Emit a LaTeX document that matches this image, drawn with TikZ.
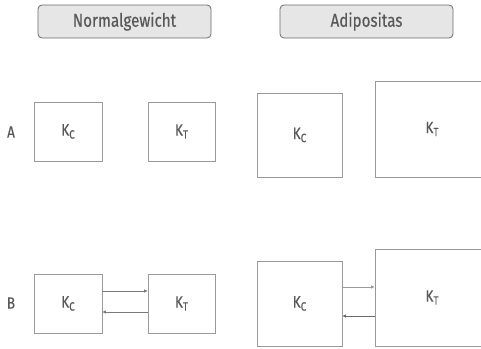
\documentclass[tikz,border=0pt]{standalone}
\usepackage{fontspec}
\setmainfont{Fira Sans}[FakeStretch=0.82,FakeBold=0.3]
\usetikzlibrary{arrows.meta}
\definecolor{txt}{HTML}{585858}
\definecolor{boxline}{HTML}{9A9A9A}
\definecolor{hdrline}{HTML}{6A6A6A}
\definecolor{hdrfill}{HTML}{E6E6E6}
\definecolor{arrline}{HTML}{7A7A7A}
\newcommand{\Ksub}[1]{K\raisebox{-3pt}{\fontsize{12}{13}\selectfont #1}}
\tikzset{
  hdr/.style={draw=hdrline, fill=hdrfill, rounded corners=4pt, line width=0.8pt,
    minimum width=173pt, minimum height=33pt, inner sep=0pt, text=txt, font=\fontsize{18.5}{21}\selectfont},
  kbox/.style={draw=boxline, line width=0.8pt, inner sep=0pt, text=txt, font=\fontsize{16.5}{19}\selectfont},
  rowlabel/.style={text=txt, inner sep=0pt, font=\fontsize{16.5}{19}\selectfont},
  arr/.style={draw=arrline, line width=0.8pt, -{Triangle[length=3.5pt,width=3pt]}}
}
\begin{document}
\begin{tikzpicture}[x=1pt,y=-1pt]
\useasboundingbox (0,0) rectangle (481,348);
\clip (0,0) rectangle (481,348);
% headers
\node[hdr] (hn) at (124.5,21.5) {Normalgewicht};
\node[hdr] (ha) at (366.5,21.5) {Adipositas};
% row labels
\node[rowlabel] (la) at (11,132) {A};
\node[rowlabel] (lb) at (11,303) {B};
% row A
\node[kbox, minimum width=68pt, minimum height=59pt] (kcA) at (68,131.5) {\Ksub{C}};
\node[kbox, minimum width=67pt, minimum height=59pt] (ktA) at (181.5,131.5) {\Ksub{T}};
\node[kbox, minimum width=85pt, minimum height=84pt] (kcAa) at (299.5,135) {\Ksub{C}};
\node[kbox, minimum width=114pt, minimum height=96pt] (ktAa) at (432,129) {\Ksub{T}};
% row B
\node[kbox, minimum width=68pt, minimum height=59pt] (kcB) at (68,303.5) {\Ksub{C}};
\node[kbox, minimum width=67pt, minimum height=59pt] (ktB) at (181.5,303.5) {\Ksub{T}};
\node[kbox, minimum width=85pt, minimum height=85pt] (kcBa) at (299.5,303.5) {\Ksub{C}};
\node[kbox, minimum width=114pt, minimum height=97pt] (ktBa) at (432,297.5) {\Ksub{T}};
% arrows normal
\coordinate (n1) at ([yshift=12.5pt]kcB.east);
\coordinate (n2) at ([yshift=-8.5pt]ktB.west);
\draw[arr] (n1) -- (n1 -| ktB.west);
\draw[arr] (n2) -- (n2 -| kcB.east);
% arrows adipositas
\coordinate (a1) at ([yshift=16.5pt]kcBa.east);
\coordinate (a2) at ([yshift=-18.5pt]ktBa.west);
\draw[arr, draw=boxline, line width=1pt] (a1) -- (a1 -| ktBa.west);
\draw[arr, draw=hdrline] (a2) -- (a2 -| kcBa.east);
\end{tikzpicture}
\end{document}
